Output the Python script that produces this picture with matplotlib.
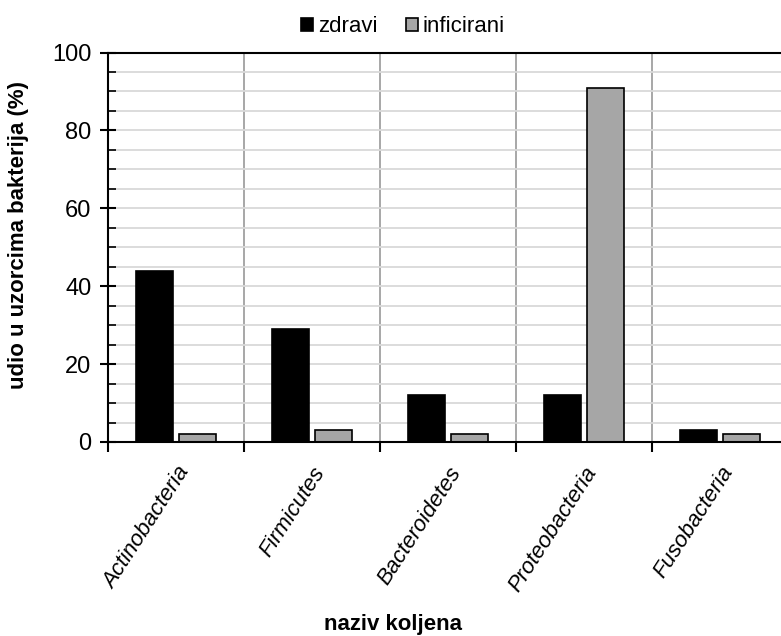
import matplotlib
matplotlib.use("Agg")
import matplotlib.pyplot as plt
import numpy as np
from matplotlib.ticker import MultipleLocator

plt.rcParams["font.family"] = ["Liberation Sans", "DejaVu Sans"]

categories = ["Actinobacteria", "Firmicutes", "Bacteroidetes",
              "Proteobacteria", "Fusobacteria"]
zdravi = [44, 29, 12, 12, 3]
inficirani = [2, 3, 2, 91, 2]

C_BLACK = "#000000"
C_GREY = "#a6a6a6"

fig = plt.figure(figsize=(7.81, 6.36), dpi=100)
ax = fig.add_axes([108 / 781, 1 - 442 / 636, 680 / 781, 389.5 / 636])

x = np.arange(len(categories))
w = 0.27
off = 0.158
ax.bar(x - off, zdravi, w, color=C_BLACK, edgecolor="black", linewidth=1.2,
       label="zdravi", zorder=3)
ax.bar(x + off, inficirani, w, color=C_GREY, edgecolor="black", linewidth=1.2,
       label="inficirani", zorder=3)

ax.set_xlim(-0.5, len(categories) - 0.5)
ax.set_ylim(0, 100)
ax.yaxis.set_major_locator(MultipleLocator(20))
ax.yaxis.set_minor_locator(MultipleLocator(5))
ax.yaxis.grid(True, which="both", color="#d9d9d9", linewidth=1.3, zorder=0)

# category boundary lines and ticks
bounds = np.arange(len(categories) + 1) - 0.5
for b in bounds[1:-1]:
    ax.axvline(b, color="#a0a0a0", linewidth=1.3, zorder=1)
ax.set_xticks(bounds, minor=True)
ax.set_xticks(x)
ax.set_xticklabels(categories, rotation=57, ha="right", rotation_mode="anchor",
                   fontsize=16, style="italic")
ax.tick_params(axis="x", which="major", length=0, pad=15)
ax.tick_params(axis="x", which="minor", length=7, width=1.5, direction="out")
ax.tick_params(axis="y", which="major", length=12, width=1.5, direction="inout",
               labelsize=17, pad=6)
ax.tick_params(axis="y", which="minor", length=6, width=1.2, direction="in")

for s in ["left", "bottom", "top", "right"]:
    ax.spines[s].set_linewidth(1.5)
    ax.spines[s].set_color("black")
    ax.spines[s].set_zorder(4)

ax.set_ylabel("udio u uzorcima bakterija (%)", fontsize=16, fontweight="bold")
ax.yaxis.set_label_coords(29 / 781, 1 - 235 / 636, transform=fig.transFigure)
fig.text(393 / 781, 1 - 630 / 636, "naziv koljena", fontsize=16,
         fontweight="bold", ha="center", va="baseline")

ax.legend(loc="center", bbox_to_anchor=(403 / 781, 1 - 27 / 636),
          bbox_transform=fig.transFigure, ncol=2, frameon=False, fontsize=16,
          handlelength=0.55, handleheight=0.55, handletextpad=0.2,
          columnspacing=1.3, borderpad=0)

fig.savefig("out.png", dpi=100, facecolor="white")
